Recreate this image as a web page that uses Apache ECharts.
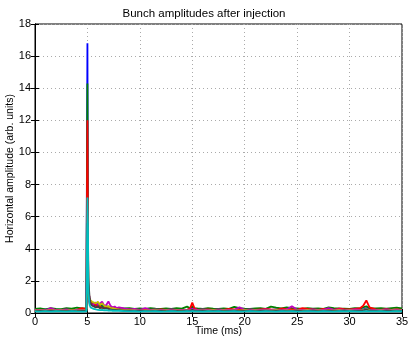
<!DOCTYPE html>
<html><head><meta charset="utf-8">
<script src="https://cdn.jsdelivr.net/npm/echarts@6/dist/echarts.min.js"></script>
<style>html,body{margin:0;padding:0;background:#fff}#c{width:408px;height:338px}</style>
</head><body><div id="c"></div>
<script>
const titleText = "Bunch amplitudes after injection";
const xName = "Time (ms)";
const yName = "Horizontal amplitude (arb. units)";
const xTicks = [0,5,10,15,20,25,30,35];
const yTicks = [0,2,4,6,8,10,12,14,16,18];

const times = [0,0.5,1,1.5,2,2.5,3,3.5,4,4.5,
  4.9,5,5.05,5.1,5.2,5.3,5.45,5.6,5.8,
  6,6.2,6.4,6.6,6.8,7,7.2,7.4,7.6,7.8,8,
  8.5,9,9.5,10,10.5,11,11.5,12,12.5,13,13.5,14,14.5,
  14.8,15,15.2,
  15.5,16,16.5,17,17.5,18,18.5,19,19.5,20,20.5,21,21.5,22,22.5,23,23.5,24,24.5,25,25.5,26,26.5,27,27.5,28,28.5,29,29.5,30,30.5,31,
  31.3,31.6,31.9,
  32.5,33,33.5,34,34.5,35];

const blue = [0.18,0.2,0.22,0.19,0.21,0.2,0.24,0.19,0.2,0.22,
  0.2,16.8,2.6,1.4,0.9,0.7,0.6,0.5,0.45,
  0.6,0.4,0.5,0.35,0.45,0.3,0.35,0.3,0.28,0.3,0.25,
  0.25,0.22,0.24,0.2,0.22,0.2,0.21,0.23,0.2,0.22,0.2,0.21,0.2,
  0.22,0.35,0.22,
  0.2,0.22,0.19,0.21,0.2,0.23,0.2,0.19,0.22,0.2,0.21,0.2,0.24,0.2,0.19,0.22,0.2,0.21,0.2,0.22,0.2,0.19,0.23,0.2,0.21,0.2,0.22,0.2,0.19,0.21,0.2,0.22,
  0.22,0.3,0.22,
  0.2,0.22,0.2,0.21,0.2,0.2];

const green = [0.25,0.28,0.22,0.3,0.26,0.24,0.3,0.27,0.33,0.28,
  0.3,14.3,2.2,1.2,0.8,0.75,0.6,0.55,0.5,
  0.45,0.5,0.4,0.42,0.38,0.4,0.35,0.33,0.3,0.32,0.3,
  0.28,0.3,0.26,0.28,0.25,0.3,0.27,0.25,0.28,0.26,0.3,0.27,0.4,
  0.3,0.42,0.3,
  0.28,0.26,0.3,0.27,0.25,0.28,0.26,0.38,0.3,0.27,0.25,0.28,0.3,0.26,0.4,0.33,0.28,0.35,0.3,0.28,0.26,0.3,0.27,0.28,0.26,0.35,0.3,0.28,0.27,0.26,0.3,0.28,
  0.35,0.42,0.3,
  0.28,0.3,0.27,0.3,0.33,0.28];

const red = [0.18,0.2,0.15,0.22,0.2,0.17,0.2,0.16,0.19,0.3,
  0.22,12.0,4.9,1.5,0.9,0.7,0.55,0.45,0.5,
  0.35,0.4,0.32,0.3,0.35,0.28,0.3,0.25,0.27,0.24,0.22,
  0.2,0.22,0.18,0.2,0.19,0.2,0.17,0.22,0.2,0.18,0.2,0.19,0.2,
  0.3,0.65,0.3,
  0.2,0.18,0.22,0.2,0.17,0.2,0.25,0.22,0.2,0.18,0.2,0.19,0.22,0.25,0.22,0.2,0.28,0.24,0.22,0.2,0.3,0.25,0.22,0.2,0.26,0.22,0.2,0.28,0.24,0.22,0.25,0.3,
  0.45,0.78,0.35,
  0.22,0.2,0.24,0.2,0.22,0.2];

const magenta = [0.18,0.2,0.17,0.3,0.18,0.2,0.22,0.18,0.2,0.18,
  0.2,4.2,1.8,0.8,0.6,0.55,0.5,0.55,0.65,
  0.5,0.6,0.7,0.45,0.5,0.72,0.45,0.35,0.4,0.3,0.35,
  0.28,0.22,0.25,0.2,0.3,0.2,0.22,0.19,0.2,0.22,0.2,0.19,0.2,
  0.22,0.25,0.22,
  0.2,0.22,0.19,0.2,0.22,0.2,0.19,0.2,0.35,0.2,0.22,0.19,0.2,0.22,0.2,0.19,0.2,0.22,0.42,0.2,0.19,0.2,0.22,0.2,0.19,0.3,0.2,0.22,0.19,0.2,0.22,0.2,
  0.2,0.22,0.2,
  0.2,0.19,0.22,0.2,0.2,0.19];

const yellow = [0.15,0.16,0.15,0.17,0.15,0.16,0.15,0.17,0.15,0.16,
  0.16,2.0,3.5,1.0,0.85,0.9,0.7,0.8,0.6,
  0.7,0.5,0.6,0.45,0.4,0.42,0.32,0.3,0.27,0.24,0.22,
  0.18,0.17,0.16,0.15,0.16,0.15,0.17,0.15,0.16,0.15,0.16,0.15,0.16,
  0.15,0.2,0.15,
  0.15,0.16,0.15,0.17,0.15,0.16,0.15,0.16,0.15,0.17,0.15,0.16,0.15,0.16,0.15,0.17,0.15,0.16,0.15,0.16,0.15,0.17,0.15,0.16,0.15,0.16,0.15,0.17,0.15,0.16,0.15,0.16,
  0.18,0.25,0.16,
  0.15,0.16,0.15,0.16,0.15,0.16];

const dark = [0.12,0.13,0.12,0.14,0.12,0.13,0.12,0.14,0.12,0.13,
  0.13,5.6,5.5,2.0,1.0,0.6,0.45,0.4,0.35,
  0.4,0.3,0.35,0.28,0.3,0.25,0.22,0.2,0.2,0.18,0.18,
  0.15,0.14,0.13,0.14,0.13,0.12,0.14,0.13,0.12,0.14,0.13,0.12,0.14,
  0.13,0.2,0.13,
  0.13,0.14,0.12,0.13,0.14,0.12,0.13,0.14,0.12,0.13,0.14,0.12,0.13,0.14,0.12,0.13,0.14,0.12,0.13,0.14,0.12,0.13,0.14,0.12,0.13,0.14,0.12,0.13,0.14,0.12,0.13,0.14,
  0.15,0.22,0.14,
  0.13,0.12,0.14,0.13,0.12,0.13];

const cyan = [0.1,0.08,0.12,0.09,0.11,0.1,0.08,0.12,0.1,0.09,
  0.1,7.2,5.4,1.2,0.5,0.35,0.3,0.25,0.22,
  0.2,0.18,0.2,0.16,0.18,0.15,0.16,0.14,0.15,0.13,0.14,
  0.12,0.1,0.11,0.09,0.12,0.1,0.11,0.09,0.1,0.12,0.1,0.09,0.11,
  0.1,0.12,0.1,
  0.1,0.09,0.11,0.1,0.12,0.08,0.1,0.11,0.09,0.1,0.12,0.1,0.08,0.11,0.1,0.09,0.12,0.1,0.11,0.09,0.1,0.12,0.1,0.08,0.11,0.1,0.09,0.12,0.1,0.11,0.1,0.09,
  0.1,0.12,0.1,
  0.1,0.11,0.09,0.1,0.12,0.1];

const seriesList = [
  {name:'b', values: blue, color:'#0000ff'},
  {name:'g', values: green, color:'#008000'},
  {name:'r', values: red, color:'#ff0000'},
  {name:'m', values: magenta, color:'#bf00bf'},
  {name:'y', values: yellow, color:'#bfbf00'},
  {name:'k', values: dark, color:'#404040'},
  {name:'c', values: cyan, color:'#00bfbf'}
];

const font = 'Liberation Sans, Arial, Helvetica, sans-serif';
const chart = echarts.init(document.getElementById('c'), null, {renderer:'canvas'});
const axisCommon = {
  axisLine:{show:true, lineStyle:{color:'#000', width:1}},
  axisTick:{show:true, inside:true, length:4, lineStyle:{color:'#000'}},
};
chart.setOption({
  animation:false,
  backgroundColor:'#fff',
  title:{text:titleText, left:'center', top:3, textStyle:{fontFamily:font, fontSize:11.5, fontWeight:'normal', color:'#000'}},
  grid:{left:35, right:6, top:24, bottom:25, containLabel:false, outerBoundsMode:'none', show:true, borderColor:'#000', borderWidth:1, backgroundColor:'#fff'},
  xAxis:[{
    type:'value', min:0, max:35, interval:5, position:'bottom',
    name:xName, nameLocation:'middle', nameGap:13, nameMoveOverlap:false,
    nameTextStyle:{fontFamily:font, fontSize:10.5, color:'#000'},
    ...axisCommon,
    axisLabel:{fontFamily:font, fontSize:11, color:'#000', margin:3},
    splitLine:{show:true, lineStyle:{color:'#aaa', type:[1,3], width:1}}
  },{
    type:'value', min:0, max:35, interval:5, position:'top',
    ...axisCommon, axisLabel:{show:false}, splitLine:{show:false}
  }],
  yAxis:[{
    type:'value', min:0, max:18, interval:2, position:'left',
    name:yName, nameLocation:'middle', nameGap:19, nameMoveOverlap:false,
    nameTextStyle:{fontFamily:font, fontSize:10.5, color:'#000'},
    ...axisCommon,
    axisLabel:{fontFamily:font, fontSize:11, color:'#000', margin:4},
    splitLine:{show:true, lineStyle:{color:'#aaa', type:[1,3], width:1}}
  },{
    type:'value', min:0, max:18, interval:2, position:'right',
    ...axisCommon, axisLabel:{show:false}, splitLine:{show:false}
  }],
  series: seriesList.map(s => ({
    type:'line', name:s.name, showSymbol:false, symbol:'none',
    data: times.map((t,i) => [t, s.values[i]]),
    lineStyle:{color:s.color, width:1.8},
    itemStyle:{color:s.color}
  }))
});
</script></body></html>
